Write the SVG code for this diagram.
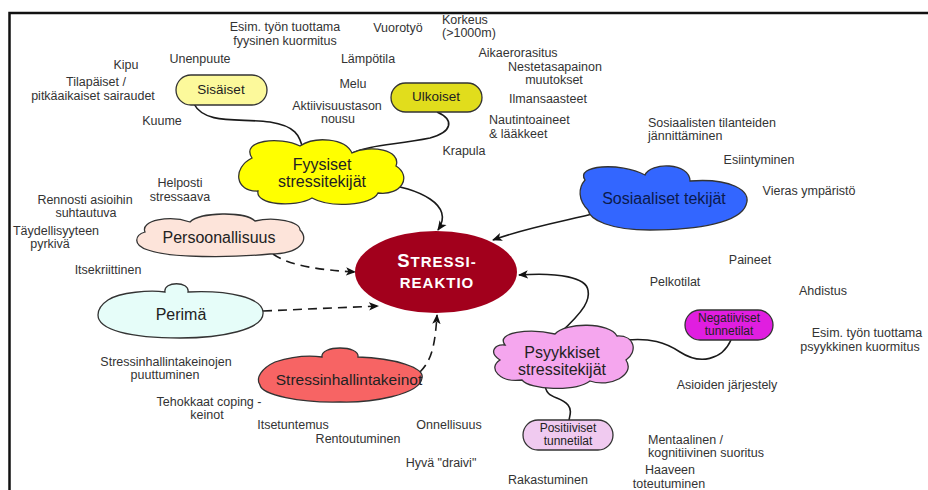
<svg xmlns="http://www.w3.org/2000/svg" width="928" height="490" viewBox="0 0 928 490">
<style>
.lbl{font-family:"Liberation Sans",Arial,sans-serif;font-size:12.5px;fill:#333;text-anchor:middle}
.st{text-anchor:start}
.nt{font-family:"Liberation Sans",Arial,sans-serif;fill:#222;text-anchor:middle}
.shape{stroke:#333;stroke-width:1.3}
.conn{fill:none;stroke:#1a1a1a;stroke-width:1.6}
.dash{stroke-dasharray:9,6}
</style>
<defs>
<marker id="arr" viewBox="0 0 10 10" refX="9" refY="5" markerWidth="10" markerHeight="10" orient="auto" markerUnits="userSpaceOnUse">
<path d="M0,0.8 L10,5 L0,9.2 L2.5,5 Z" fill="#111"/>
</marker>
</defs>
<rect width="928" height="490" fill="#fff"/>
<path d="M9.5,490 V13 H928" fill="none" stroke="#111" stroke-width="2.5"/>

<g id="connectors">
<path class="conn" d="M194,104 C205,125 240,118 270,122 C295,126 300,135 303,150"/>
<path class="conn" d="M437,112 C455,120 452,132 430,138 C395,145 370,145 352,153"/>
<path class="conn" d="M377,183 C420,188 455,205 438,230" marker-end="url(#arr)"/>
<path class="conn" d="M597,213 C560,222 525,228 493,240" marker-end="url(#arr)"/>
<path class="conn dash" d="M273,254 C290,266 320,270 355,272" marker-end="url(#arr)"/>
<path class="conn dash" d="M263,311 L378,306" marker-end="url(#arr)"/>
<path class="conn dash" d="M420,372 C432,360 435,345 437,315" marker-end="url(#arr)"/>
<path class="conn" d="M560,333 C585,310 590,300 588,290 C586,278 560,272 519,275" marker-end="url(#arr)"/>
<path class="conn" d="M731,340 C722,360 700,365 680,352 C665,342 650,338 627,340"/>
<path class="conn" d="M545,383 C545,400 560,395 568,405 C572,410 570,415 569,420"/>
</g>

<g id="sisaiset">
<rect class="shape" x="176" y="75" width="91" height="30" rx="15" fill="#fcf99b"/>
<text class="nt" x="221" y="94" font-size="13.5">Sisäiset</text>
</g>
<g id="ulkoiset">
<rect class="shape" x="391" y="83" width="91" height="29" rx="14.5" fill="#e1dd1c"/>
<text class="nt" x="436" y="101" font-size="13.5">Ulkoiset</text>
</g>
<g id="fyysiset">
<path class="shape" fill="#ffff00" d="M252,158 C240,140 280,136 300,146 C315,136 345,138 352,153 C370,144 402,150 396,166 C412,176 402,196 378,193 C372,206 330,208 312,198 C295,208 255,205 258,191 C235,192 232,168 252,158 Z"/>
<text class="nt" x="322" y="170" font-size="16">Fyysiset</text>
<text class="nt" x="322" y="187" font-size="16">stressitekijät</text>
</g>
<g id="stressireaktio">
<ellipse cx="436" cy="272" rx="81" ry="41" fill="#a2001c"/>
<text class="nt" x="437" y="267" font-weight="bold" style="fill:#fff" letter-spacing="1"><tspan font-size="18.5">S</tspan><tspan font-size="15">TRESSI-</tspan></text>
<text class="nt" x="437" y="288" font-weight="bold" font-size="15" style="fill:#fff" letter-spacing="1">REAKTIO</text>
</g>
<g id="sosiaaliset">
<path class="shape" fill="#3366ff" d="M585,180 C575,165 620,162 645,175 C650,162 690,162 690,181 C730,178 752,190 746,205 C740,222 700,230 650,230 C610,230 590,220 588,210 C578,200 578,188 585,180 Z"/>
<text class="nt" x="664" y="204" font-size="16" style="fill:#0b1a4d">Sosiaaliset tekijät</text>
</g>
<g id="persoonallisuus">
<path class="shape" fill="#fde4da" d="M145,232 C140,220 170,215 190,222 C200,212 245,211 255,221 C275,216 300,222 300,230 C310,240 300,254 270,254 C230,258 170,258 148,250 C132,245 135,235 145,232 Z"/>
<text class="nt" x="219" y="243" font-size="16">Persoonallisuus</text>
</g>
<g id="perima">
<path class="shape" fill="#e6fdf9" d="M108,300 C120,292 150,290 165,292 C163,281 190,281 188,292 C230,290 262,298 263,312 C265,330 220,338 180,338 C130,338 98,330 98,315 C98,308 102,304 108,300 Z"/>
<text class="nt" x="181" y="320" font-size="16">Perimä</text>
</g>
<g id="stressinhallintakeinot">
<path class="shape" fill="#f76464" d="M275,362 C300,354 315,356 322,357 C320,345 360,345 358,357 C395,358 425,368 422,378 C420,395 370,403 340,402 C300,403 262,395 260,385 C255,378 262,368 275,362 Z"/>
<text class="nt" x="349" y="385" font-size="15.5">Stressinhallintakeinot</text>
</g>
<g id="psyykkiset">
<path class="shape" fill="#f5a6ee" d="M505,345 C495,332 530,328 555,334 C565,322 610,322 617,336 C635,335 638,352 626,360 C636,375 610,388 590,381 C575,392 530,390 522,380 C500,383 487,368 500,360 C488,352 495,344 505,345 Z"/>
<text class="nt" x="562" y="358" font-size="16">Psyykkiset</text>
<text class="nt" x="562" y="375" font-size="16">stressitekijät</text>
</g>
<g id="negatiiviset">
<rect class="shape" x="685" y="310" width="88" height="30" rx="15" fill="#e01ee0"/>
<text class="nt" x="729" y="322" font-size="12">Negatiiviset</text>
<text class="nt" x="729" y="335" font-size="12">tunnetilat</text>
</g>
<g id="positiiviset">
<rect class="shape" x="523" y="420" width="90" height="30" rx="15" fill="#f0caf0"/>
<text class="nt" x="568" y="432" font-size="12">Positiiviset</text>
<text class="nt" x="568" y="445" font-size="12">tunnetilat</text>
</g>

<g id="labels">
<text class="lbl" x="285" y="31">Esim. työn tuottama</text>
<text class="lbl" x="285" y="45">fyysinen kuormitus</text>
<text class="lbl" x="398" y="32">Vuorotyö</text>
<text class="lbl st" x="442" y="24">Korkeus</text>
<text class="lbl st" x="442" y="37">(&gt;1000m)</text>
<text class="lbl" x="200" y="63">Unenpuute</text>
<text class="lbl" x="126" y="69">Kipu</text>
<text class="lbl" x="368" y="63">Lämpötila</text>
<text class="lbl" x="518" y="57">Aikaerorasitus</text>
<text class="lbl" x="555" y="71">Nestetasapainon</text>
<text class="lbl" x="554" y="84">muutokset</text>
<text class="lbl" x="96" y="86">Tilapäiset /</text>
<text class="lbl" x="93" y="100">pitkäaikaiset sairaudet</text>
<text class="lbl" x="353" y="88">Melu</text>
<text class="lbl" x="548" y="103">Ilmansaasteet</text>
<text class="lbl" x="337" y="110">Aktiivisuustason</text>
<text class="lbl" x="338" y="123">nousu</text>
<text class="lbl" x="162" y="125">Kuume</text>
<text class="lbl st" x="489" y="124">Nautintoaineet</text>
<text class="lbl st" x="489" y="138">&amp; lääkkeet</text>
<text class="lbl" x="464" y="155">Krapula</text>
<text class="lbl st" x="648" y="127">Sosiaalisten tilanteiden</text>
<text class="lbl st" x="648" y="140">jännittäminen</text>
<text class="lbl" x="759" y="164">Esiintyminen</text>
<text class="lbl" x="809" y="195">Vieras ympäristö</text>
<text class="lbl" x="180" y="187">Helposti</text>
<text class="lbl" x="180" y="201">stressaava</text>
<text class="lbl" x="85" y="204">Rennosti asioihin</text>
<text class="lbl" x="86" y="217">suhtautuva</text>
<text class="lbl" x="56" y="235">Täydellisyyteen</text>
<text class="lbl" x="50" y="248">pyrkivä</text>
<text class="lbl" x="108" y="274">Itsekriittinen</text>
<text class="lbl" x="750" y="264">Paineet</text>
<text class="lbl" x="675" y="286">Pelkotilat</text>
<text class="lbl" x="823" y="295">Ahdistus</text>
<text class="lbl" x="867" y="337">Esim. työn tuottama</text>
<text class="lbl" x="860" y="351">psyykkinen kuormitus</text>
<text class="lbl" x="727" y="389">Asioiden järjestely</text>
<text class="lbl st" x="648" y="444">Mentaalinen /</text>
<text class="lbl st" x="648" y="457">kognitiivinen suoritus</text>
<text class="lbl" x="670" y="474">Haaveen</text>
<text class="lbl" x="669" y="488">toteutuminen</text>
<text class="lbl" x="166" y="366">Stressinhallintakeinojen</text>
<text class="lbl" x="165" y="379">puuttuminen</text>
<text class="lbl" x="209" y="406">Tehokkaat coping -</text>
<text class="lbl" x="207" y="419">keinot</text>
<text class="lbl" x="293" y="429">Itsetuntemus</text>
<text class="lbl" x="358" y="443">Rentoutuminen</text>
<text class="lbl" x="449" y="429">Onnellisuus</text>
<text class="lbl" x="441" y="467">Hyvä "draivi"</text>
<text class="lbl" x="548" y="484">Rakastuminen</text>
</g>
</svg>
